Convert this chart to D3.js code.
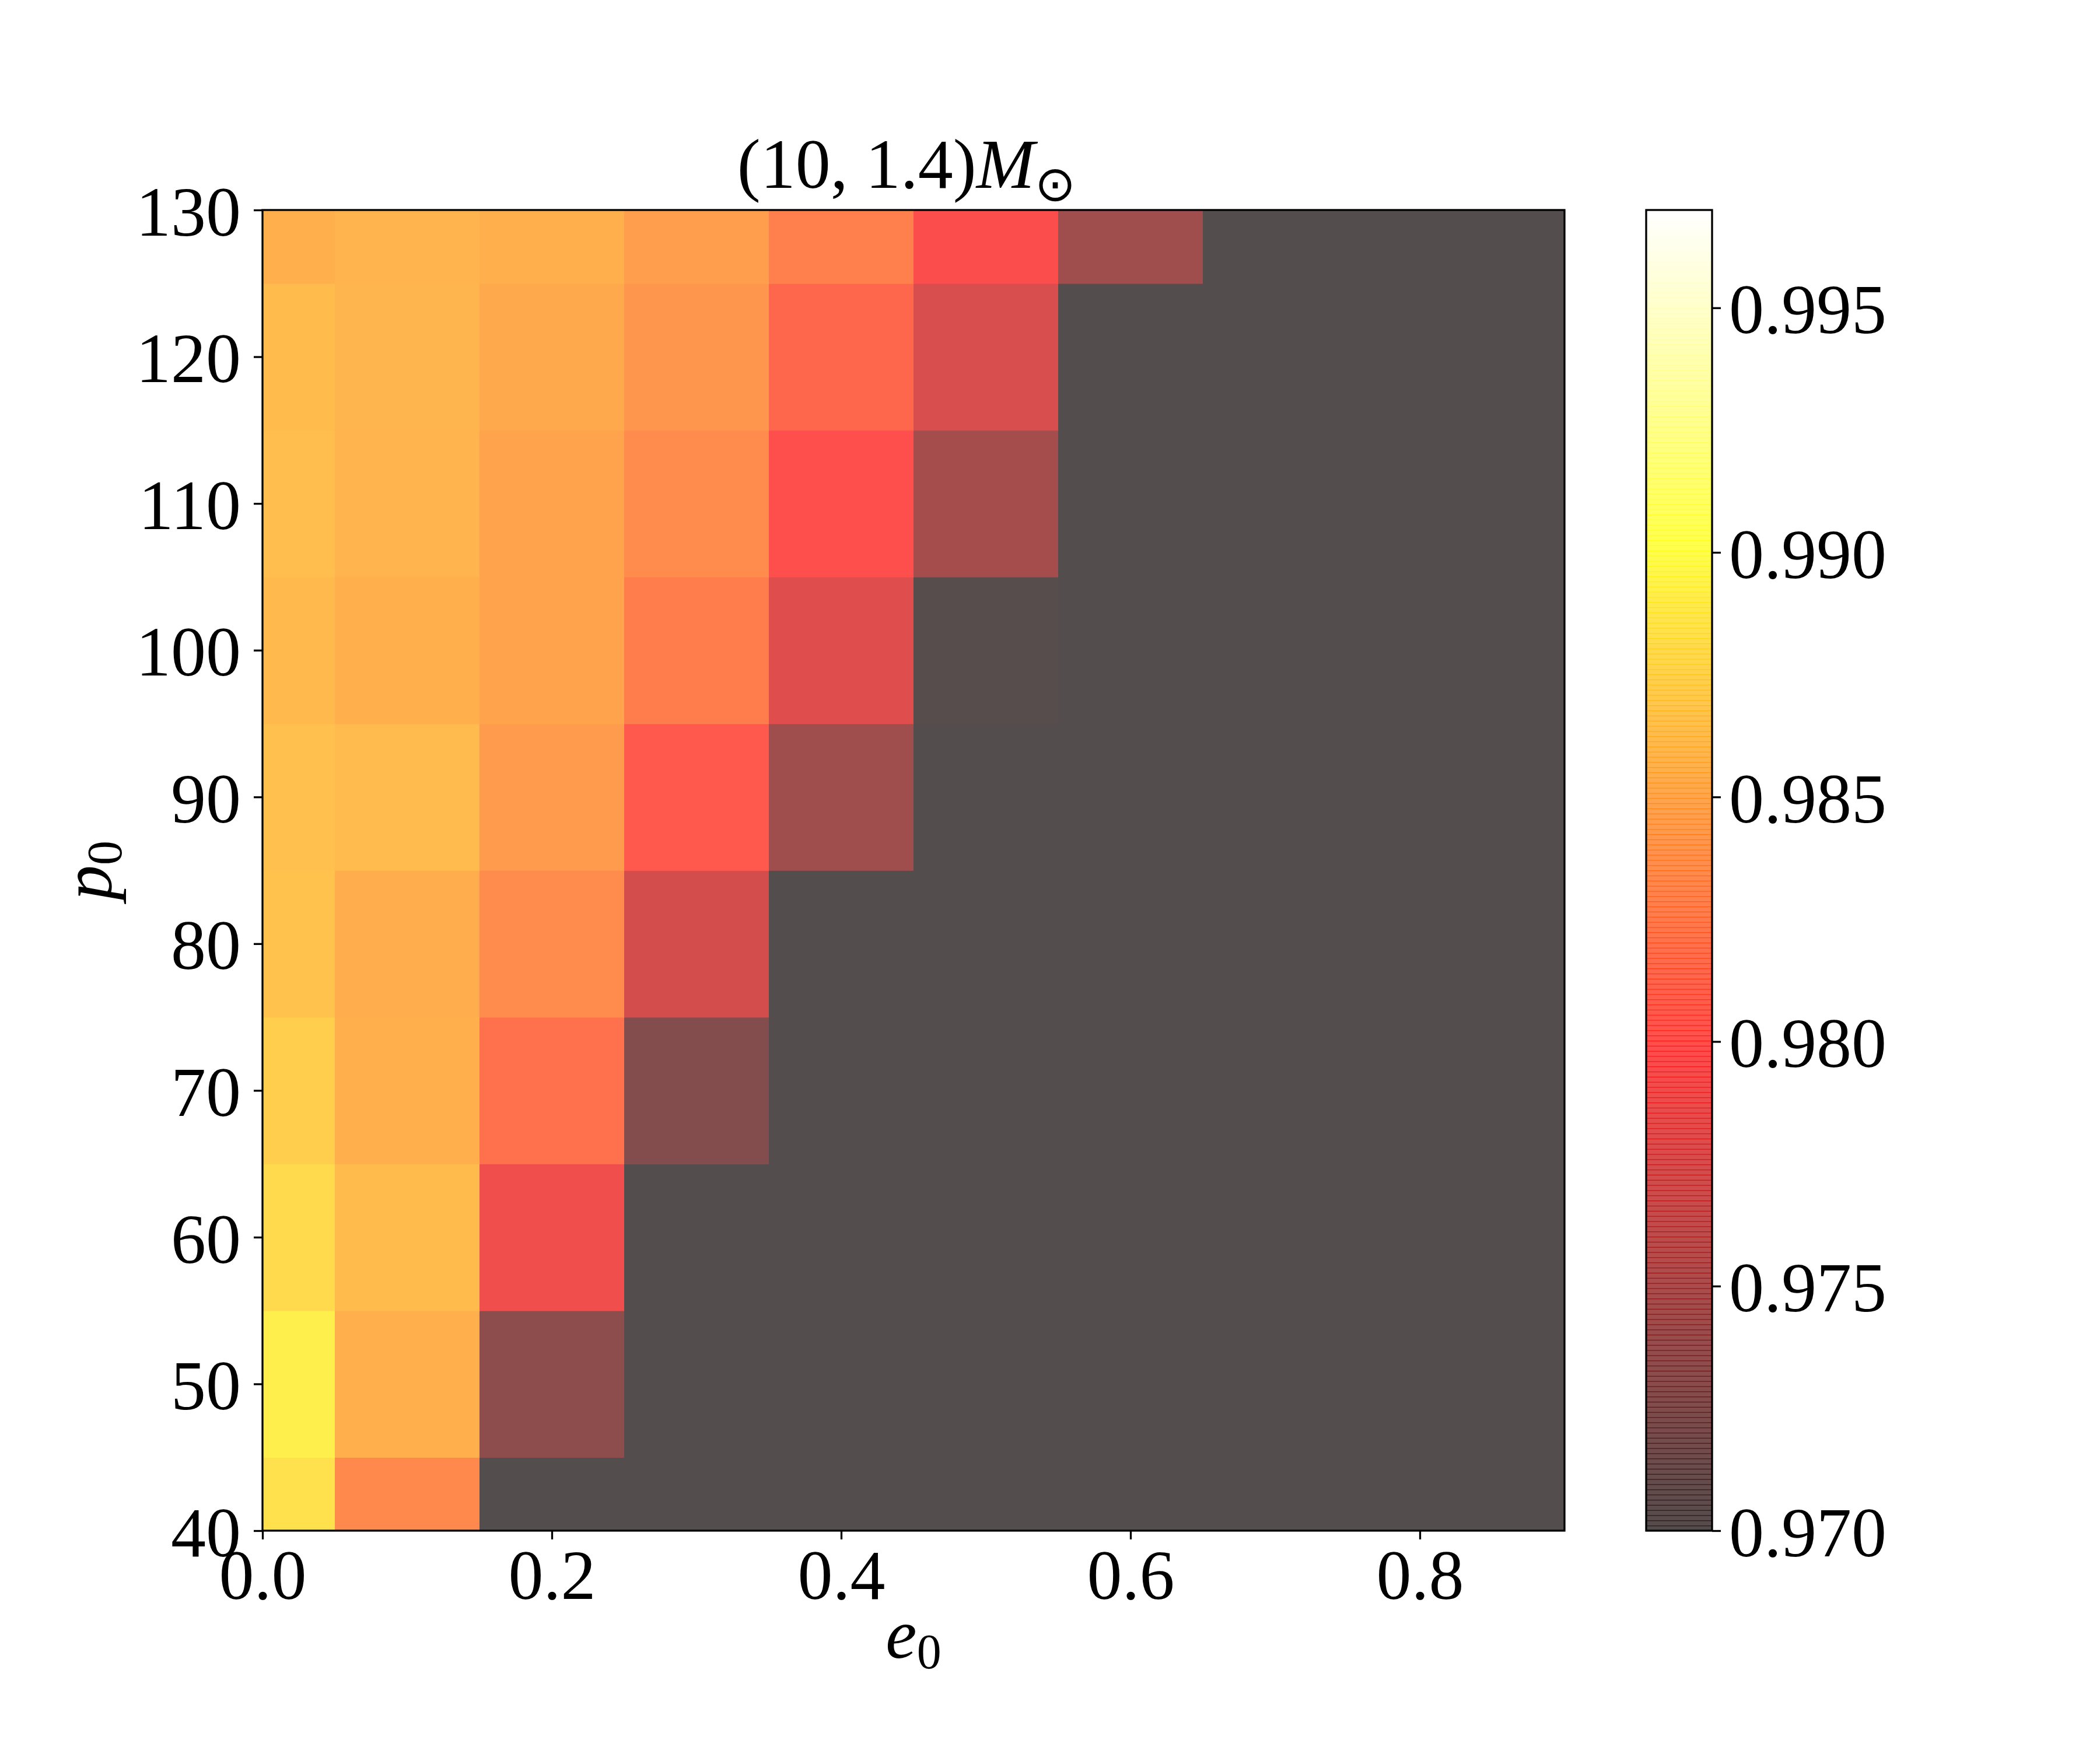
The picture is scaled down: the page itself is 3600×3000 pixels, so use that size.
<!DOCTYPE html>
<html>
<head>
<meta charset="utf-8">
<script src="https://cdn.jsdelivr.net/npm/d3@7"></script>
<style>
  body { margin: 0; background: #fff; }
  text { font-family: "Liberation Serif", "DejaVu Serif", serif; }
</style>
</head>
<body>
<div id="viz"></div>
<script>
// grid axes
const eValues = [0.0, 0.1, 0.2, 0.3, 0.4, 0.5, 0.6, 0.7, 0.8, 0.9];
const pValues = [40, 50, 60, 70, 80, 90, 100, 110, 120, 130];
// match values, one row per p0 (40 -> 130), one column per e0
const matchGrid = [
  [0.9884, 0.9833, 0.9600, 0.9600, 0.9600, 0.9600, 0.9600, 0.9600, 0.9600, 0.9600],
  [0.9892, 0.9856, 0.9733, 0.9600, 0.9600, 0.9600, 0.9600, 0.9600, 0.9600, 0.9600],
  [0.9880, 0.9863, 0.9790, 0.9600, 0.9600, 0.9600, 0.9600, 0.9600, 0.9600, 0.9600],
  [0.9873, 0.9856, 0.9819, 0.9727, 0.9600, 0.9600, 0.9600, 0.9600, 0.9600, 0.9600],
  [0.9867, 0.9854, 0.9835, 0.9774, 0.9600, 0.9600, 0.9600, 0.9600, 0.9600, 0.9600],
  [0.9865, 0.9862, 0.9844, 0.9806, 0.9743, 0.9600, 0.9600, 0.9600, 0.9600, 0.9600],
  [0.9861, 0.9856, 0.9849, 0.9826, 0.9780, 0.9702, 0.9600, 0.9600, 0.9600, 0.9600],
  [0.9864, 0.9858, 0.9849, 0.9835, 0.9800, 0.9747, 0.9600, 0.9600, 0.9600, 0.9600],
  [0.9863, 0.9859, 0.9852, 0.9841, 0.9814, 0.9776, 0.9600, 0.9600, 0.9600, 0.9600],
  [0.9856, 0.9858, 0.9856, 0.9846, 0.9828, 0.9797, 0.9743, 0.9600, 0.9600, 0.9600]
];
const xTicks = [0.0, 0.2, 0.4, 0.6, 0.8];
const yTicks = [40, 50, 60, 70, 80, 90, 100, 110, 120, 130];
const cbTicks = [0.970, 0.975, 0.980, 0.985, 0.990, 0.995];
const vmin = 0.970, vmax = 0.997;
const ALPHA = 0.7;

// matplotlib 'hot', already blended over white at ALPHA
const hot = (t) => {
  t = Math.max(0, Math.min(1, t));
  const a = 0.365079, b = 0.746032;
  const r = t < a ? 0.0416 + (1 - 0.0416) * t / a : 1;
  const g = t < a ? 0 : (t < b ? (t - a) / (b - a) : 1);
  const bl = t < b ? 0 : (t - b) / (1 - b);
  const mix = c => 255 * (ALPHA * c + (1 - ALPHA));
  return d3.rgb(mix(r), mix(g), mix(bl)).toString();
};

const W = 3600, H = 3000;
const mLeft = 450, mRight = 2682, mTop = 360, mBottom = 2624;
const FS = 120;

const svg = d3.select('#viz').append('svg')
  .attr('width', W).attr('height', H);

const x = d3.scaleLinear().domain([0, 0.9]).range([mLeft, mRight]);
const y = d3.scaleLinear().domain([40, 130]).range([mBottom, mTop]);
const norm = d3.scaleLinear().domain([vmin, vmax]).range([0, 1]).clamp(true);

// cells (nearest shading, edges half-way between centres)
const cells = [];
pValues.forEach((p, i) => {
  eValues.forEach((e, j) => {
    cells.push({
      e0: Math.max(0, e - 0.05), e1: Math.min(0.9, e + 0.05),
      p0: Math.max(40, p - 5), p1: Math.min(130, p + 5),
      v: matchGrid[i][j]
    });
  });
});

svg.append('g').selectAll('rect').data(cells).join('rect')
  .attr('x', d => x(d.e0))
  .attr('y', d => y(d.p1))
  .attr('width', d => x(d.e1) - x(d.e0) + 0.8)
  .attr('height', d => y(d.p0) - y(d.p1) + 0.8)
  .attr('fill', d => hot(norm(d.v)));

// axes
const xAxis = svg.append('g')
  .attr('transform', `translate(0,${mBottom})`)
  .call(d3.axisBottom(x).tickValues(xTicks).tickFormat(d3.format('.1f')).tickSize(15).tickPadding(20));
const yAxis = svg.append('g')
  .attr('transform', `translate(${mLeft},0)`)
  .call(d3.axisLeft(y).tickValues(yTicks).tickFormat(d3.format('d')).tickSize(15).tickPadding(22));

[xAxis, yAxis].forEach(g => {
  g.select('.domain').remove();
  g.selectAll('.tick line').attr('stroke', '#000').attr('stroke-width', 3.3);
  g.selectAll('.tick text').attr('font-size', FS).attr('fill', '#000')
    .style('font-family', '"Liberation Serif", serif');
});
xAxis.selectAll('.tick text').attr('dy', '0.68em');
yAxis.selectAll('.tick text').attr('dy', '0.36em');

// frame
svg.append('rect')
  .attr('x', mLeft).attr('y', mTop)
  .attr('width', mRight - mLeft).attr('height', mBottom - mTop)
  .attr('fill', 'none').attr('stroke', '#000').attr('stroke-width', 3.3);

// title
const title = svg.append('text')
  .attr('x', (mLeft + mRight) / 2 - 12).attr('y', 322)
  .attr('text-anchor', 'middle').attr('font-size', FS);
title.append('tspan').text('(10, 1.4)');
title.append('tspan').attr('font-style', 'italic').text('M');
title.append('tspan').attr('font-size', FS * 0.7).attr('dy', 22)
  .style('font-family', '"DejaVu Sans", sans-serif').text('\u2299');

// axis labels
const xl = svg.append('text')
  .attr('x', (mLeft + mRight) / 2).attr('y', 2842)
  .attr('text-anchor', 'middle').attr('font-size', FS);
xl.append('tspan').attr('font-style', 'italic').text('e');
xl.append('tspan').attr('font-size', FS * 0.7).attr('dy', 18).text('0');

const yl = svg.append('text')
  .attr('transform', `translate(190,${(mTop + mBottom) / 2}) rotate(-90)`)
  .attr('text-anchor', 'middle').attr('font-size', FS);
yl.append('tspan').attr('font-style', 'italic').text('p');
yl.append('tspan').attr('font-size', FS * 0.7).attr('dy', 18).text('0');

// colorbar (translucent segments, slight overlap gives the faint banding)
const cbLeft = 2822, cbRight = 2935;
const cy = d3.scaleLinear().domain([vmin, vmax]).range([mBottom, mTop]);
const nSeg = 256;
const segs = d3.range(nSeg).map(i => ({
  v0: vmin + (vmax - vmin) * i / nSeg,
  v1: vmin + (vmax - vmin) * (i + 1) / nSeg,
  t: (i + 0.5) / nSeg
}));
const hotRaw = (t) => {
  const a = 0.365079, b = 0.746032;
  const r = t < a ? 0.0416 + (1 - 0.0416) * t / a : 1;
  const g = t < a ? 0 : (t < b ? (t - a) / (b - a) : 1);
  const bl = t < b ? 0 : (t - b) / (1 - b);
  return d3.rgb(r * 255, g * 255, bl * 255).toString();
};
svg.append('g').selectAll('rect').data(segs).join('rect')
  .attr('x', cbLeft).attr('width', cbRight - cbLeft)
  .attr('y', d => cy(d.v1))
  .attr('height', d => cy(d.v0) - cy(d.v1) + 1.2)
  .attr('fill', d => hotRaw(d.t))
  .attr('fill-opacity', ALPHA);

const cbAxis = svg.append('g')
  .attr('transform', `translate(${cbRight},0)`)
  .call(d3.axisRight(cy).tickValues(cbTicks).tickFormat(d3.format('.3f')).tickSize(15).tickPadding(14));
cbAxis.select('.domain').remove();
cbAxis.selectAll('.tick line').attr('stroke', '#000').attr('stroke-width', 3.3);
cbAxis.selectAll('.tick text').attr('font-size', FS).attr('fill', '#000').attr('dy', '0.36em')
  .style('font-family', '"Liberation Serif", serif');

svg.append('rect')
  .attr('x', cbLeft).attr('y', mTop)
  .attr('width', cbRight - cbLeft).attr('height', mBottom - mTop)
  .attr('fill', 'none').attr('stroke', '#000').attr('stroke-width', 3.3);
</script>
</body>
</html>
